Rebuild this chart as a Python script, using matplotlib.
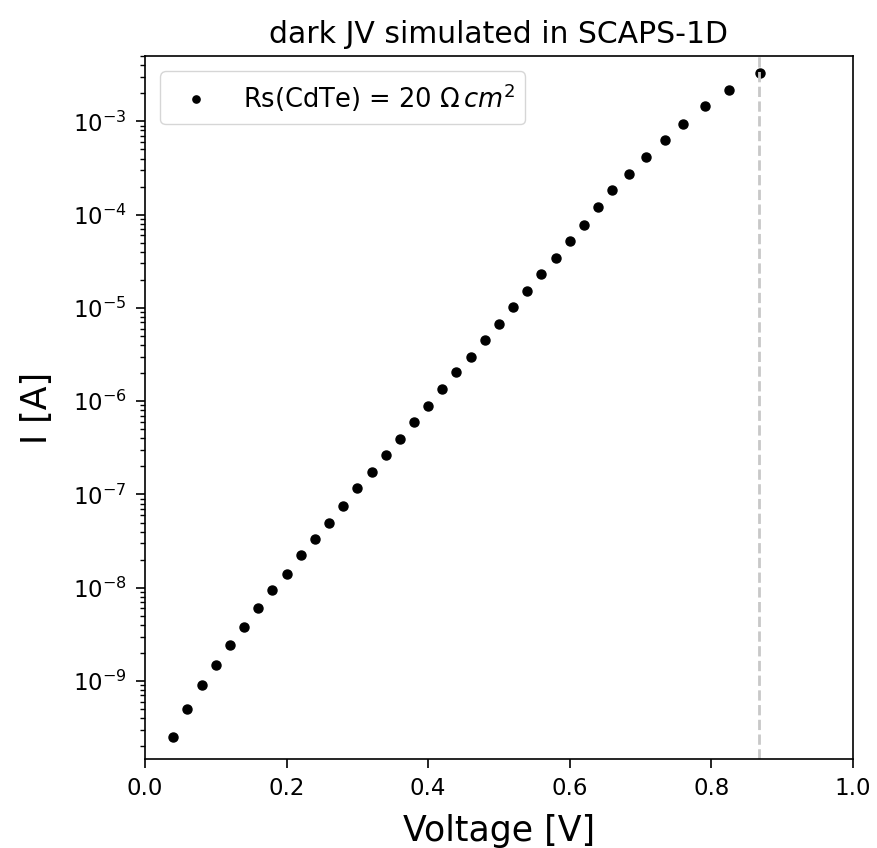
import matplotlib

matplotlib.use("Agg")
import matplotlib.pyplot as plt

# dark JV points (voltage in V, current in A)
voltage = [
    0.04, 0.06, 0.08, 0.10, 0.12, 0.14, 0.16, 0.18, 0.20, 0.22,
    0.24, 0.26, 0.28, 0.30, 0.32, 0.34, 0.36, 0.38, 0.40, 0.42,
    0.44, 0.46, 0.48, 0.50, 0.52, 0.54, 0.56, 0.58, 0.60, 0.62,
    0.64, 0.66, 0.684, 0.708, 0.734, 0.760, 0.791, 0.825, 0.868,
]
current = [
    2.53e-10, 5.0e-10, 9.06e-10, 1.48e-9, 2.43e-9, 3.82e-9, 6.0e-9, 9.4e-9,
    1.41e-8, 2.22e-8, 3.3e-8, 4.98e-8, 7.6e-8, 1.18e-7, 1.75e-7, 2.62e-7,
    3.96e-7, 5.96e-7, 8.9e-7, 1.35e-6, 2.04e-6, 3.0e-6, 4.5e-6, 6.8e-6,
    1.03e-5, 1.53e-5, 2.30e-5, 3.44e-5, 5.2e-5, 7.7e-5, 1.21e-4, 1.85e-4,
    2.76e-4, 4.19e-4, 6.25e-4, 9.3e-4, 1.46e-3, 2.18e-3, 3.28e-3,
]
v_marker = 0.867
series_label = r"Rs(CdTe) = 20 $\Omega\,cm^2$"

fig = plt.figure(figsize=(8.77, 8.48), dpi=100)
ax = fig.add_axes([0.1653, 0.105, 0.8073, 0.829])

ax.plot(voltage, current, "o", color="black", markersize=6.5, label=series_label)
ax.axvline(v_marker, color="#c8c8c8", linestyle="--", linewidth=2)

ax.set_yscale("log")
ax.set_xlim(0.0, 1.0)
ax.set_ylim(1.46e-10, 5.03e-3)

ax.set_xlabel("Voltage [V]", fontsize=25, labelpad=10)
ax.set_ylabel("I [A]", fontsize=25, labelpad=14)
ax.set_title("dark JV simulated in SCAPS-1D", fontsize=21.5, pad=9)
ax.tick_params(axis="both", which="major", labelsize=16.5, length=6.5,
               width=1.2, pad=6.5)
ax.tick_params(axis="both", which="minor", length=3.5, width=1.0)
for spine in ax.spines.values():
    spine.set_linewidth(1.2)
ax.legend(loc="upper left", fontsize=18.5, markerscale=0.8, borderaxespad=0.6)

fig.savefig("out.png", dpi=100)
